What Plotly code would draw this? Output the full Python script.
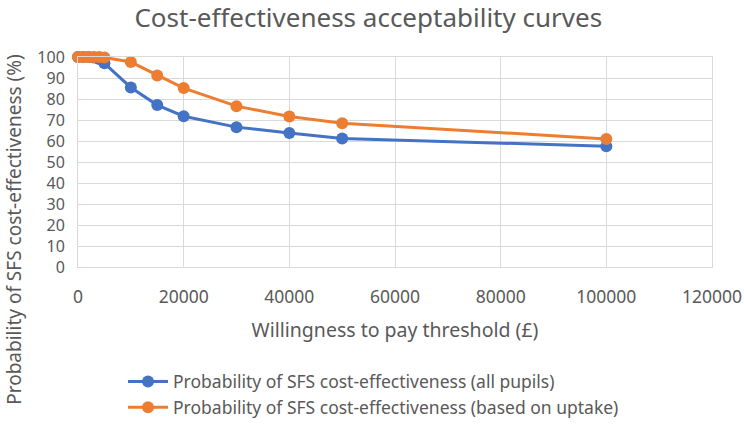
import plotly.graph_objects as go

wtp = [0, 1000, 2000, 3000, 4000, 5000, 10000, 15000, 20000, 30000, 40000, 50000, 100000]
prob_all = [100, 100, 100, 99.8, 99, 97, 85.5, 77.1, 71.8, 66.6, 63.8, 61.2, 57.5]
prob_uptake = [100, 100, 100, 100, 100, 99.8, 97.6, 91.2, 85.2, 76.6, 71.7, 68.5, 61]
names = ["Probability of SFS cost-effectiveness (all pupils)",
         "Probability of SFS cost-effectiveness (based on uptake)"]
colors = ["#4472C4", "#ED7D31"]
x_ticks = [0, 20000, 40000, 60000, 80000, 100000, 120000]
y_ticks = [0, 10, 20, 30, 40, 50, 60, 70, 80, 90, 100]

FONT = "Noto Sans"
GREY = "#595959"

fig = go.Figure()
for ys, nm, c in zip([prob_all, prob_uptake], names, colors):
    fig.add_trace(go.Scatter(
        x=wtp, y=ys, name=nm, mode="lines+markers",
        line=dict(color=c, width=3),
        marker=dict(color=c, size=12),
        cliponaxis=False,
    ))

fig.update_layout(
    width=744, height=437,
    margin=dict(l=78, r=32, t=57, b=165),
    paper_bgcolor="white", plot_bgcolor="white",
    font=dict(family=FONT, color=GREY, size=17.5),
    title=dict(text="Cost-effectiveness acceptability curves",
               x=0.495, xanchor="center", y=0.958, yanchor="middle",
               font=dict(size=26, color=GREY, family=FONT)),
    legend=dict(orientation="v", x=0.071, xanchor="left", y=-0.755, yanchor="bottom",
                font=dict(size=17.5, color=GREY, family=FONT),
                itemwidth=40),
    showlegend=True,
)
fig.update_xaxes(
    range=[0, 120000], tickvals=x_ticks, tickformat="d",
    showgrid=True, gridcolor="#d9d9d9", gridwidth=1,
    showline=True, linecolor="#d9d9d9", mirror=True, zeroline=False,
    ticks="", tickfont=dict(size=17.5, color=GREY), ticklabelstandoff=14,
    automargin=False,
    title=dict(text="Willingness to pay threshold (£)", font=dict(size=19.5, color=GREY), standoff=16),
)
fig.update_yaxes(
    range=[0, 100], tickvals=y_ticks,
    showgrid=True, gridcolor="#d9d9d9", gridwidth=1,
    showline=True, linecolor="#d9d9d9", mirror=True, zeroline=False,
    ticks="", tickfont=dict(size=16, color=GREY), ticklabelstandoff=9,
    automargin=False,
)
fig.add_annotation(
    text="Probability of SFS cost-effectiveness (%)", textangle=-90,
    xref="paper", yref="paper", x=-0.1, y=0.18, xanchor="center", yanchor="middle",
    showarrow=False, font=dict(size=19, color=GREY, family=FONT),
)

fig.write_html("out.html")
